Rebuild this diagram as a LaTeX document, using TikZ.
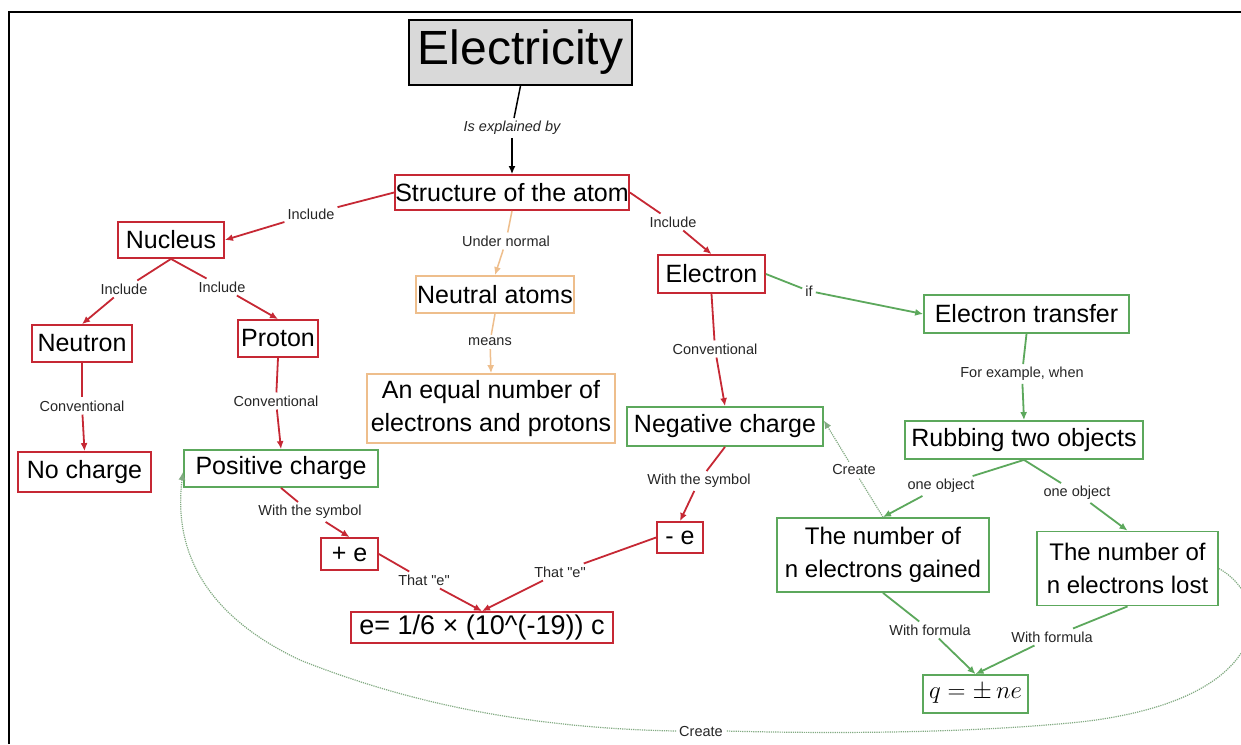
\documentclass[tikz,border=0pt]{standalone}
\usepackage{fontspec}
\setmainfont{Liberation Sans}
\usetikzlibrary{arrows.meta}
\definecolor{cred}{RGB}{198,40,52}
\definecolor{cgreen}{RGB}{92,168,92}
\definecolor{corange}{RGB}{238,190,140}
\definecolor{cgray}{RGB}{217,217,217}
\definecolor{cdot}{RGB}{130,170,130}
\begin{document}
\begin{tikzpicture}[x=1pt,y=-1pt,
  box/.style={draw, line width=1.8pt, inner sep=0pt, align=center, font=\fontsize{25}{33}\selectfont},
  redbox/.style={box, draw=cred},
  greenbox/.style={box, draw=cgreen},
  orangebox/.style={box, draw=corange},
  lbl/.style={inner sep=3pt, font=\fontsize{14.5}{16}\selectfont, text=black!85},
  tip/.style={-{Latex[length=8pt,width=7pt]}},
  rl/.style={draw=cred, line width=1.8pt},
  gl/.style={draw=cgreen, line width=1.8pt},
  ol/.style={draw=corange, line width=1.5pt},
  bl/.style={draw=black, line width=1.5pt},
  dl/.style={draw=cdot, line width=1.2pt, densely dotted}
]
\useasboundingbox (0,0) rectangle (1241,744);
\fill[white] (0,0) rectangle (1241,744);
\draw[line width=2.2pt] (9,744) -- (9,12) -- (1241,12);

% concepts
\node[box, fill=cgray, draw=black, minimum width=223, minimum height=65, font=\fontsize{48}{50}\selectfont] (elec) at (520.5,52.5) {Electricity};
\node[redbox, minimum width=234, minimum height=35] (struct) at (512,192.5) {Structure of the atom};
\node[redbox, minimum width=106, minimum height=36] (nucleus) at (171,240) {Nucleus};
\node[redbox, minimum width=100, minimum height=37] (neutron) at (82,343.5) {Neutron};
\node[redbox, minimum width=80, minimum height=37] (proton) at (278,338.5) {Proton};
\node[redbox, minimum width=133, minimum height=40] (nocharge) at (84.5,472) {No charge};
\node[greenbox, minimum width=194, minimum height=37] (positive) at (281,468.5) {Positive charge};
\node[orangebox, minimum width=158, minimum height=37] (neutral) at (495,294.5) {Neutral atoms};
\node[orangebox, minimum width=248, minimum height=69] (equal) at (491,408.5) {An equal number of\\electrons and protons};
\node[redbox, minimum width=107, minimum height=38] (electron) at (711.5,274) {Electron};
\node[greenbox, minimum width=196, minimum height=39] (negative) at (725,426.5) {Negative charge};
\node[greenbox, minimum width=205, minimum height=38] (transfer) at (1026.5,314) {Electron transfer};
\node[greenbox, minimum width=238, minimum height=38] (rubbing) at (1024,440) {Rubbing two objects};
\node[greenbox, minimum width=212, minimum height=74, font=\fontsize{24}{33}\selectfont] (gained) at (883,555) {The number of\\n electrons gained};
\node[greenbox, minimum width=181, minimum height=74, font=\fontsize{24}{33}\selectfont] (lost) at (1127.5,568.5) {The number of\\n electrons lost};
\node[greenbox, minimum width=105, minimum height=38, font=\fontsize{24}{26}\selectfont] (q) at (975.5,694) {$q = \pm\, ne$};
\node[redbox, minimum width=57, minimum height=32] (pe) at (349.5,554) {+ e};
\node[redbox, minimum width=46, minimum height=31] (me) at (680,537.5) {- e};
\node[redbox, minimum width=262, minimum height=31, font=\fontsize{27}{29}\selectfont] (formula) at (482,627.5) {e= 1/6 × (10\textasciicircum(-19)) c};

% linking phrases
\node[lbl, font=\fontsize{14.5}{16}\selectfont\itshape] (l1) at (512,128) {Is explained by};
\node[lbl] (l2) at (311,214) {Include};
\node[lbl] (l3) at (506,241) {Under normal};
\node[lbl] (l4) at (673,222) {Include};
\node[lbl] (l5) at (124,289) {Include};
\node[lbl] (l6) at (222,287) {Include};
\node[lbl] (l7) at (82,406) {Conventional};
\node[lbl] (l8) at (276,401) {Conventional};
\node[lbl] (l9) at (490,342) {means};
\node[lbl] (l10) at (715,349) {Conventional};
\node[lbl] (l11) at (809,291) {if};
\node[lbl] (l12) at (1022,374) {For example, when};
\node[lbl] (l13) at (941,486) {one object};
\node[lbl] (l14) at (1077,493) {one object};
\node[lbl] (l15) at (310,512) {With the symbol};
\node[lbl] (l16) at (699,481) {With the symbol};
\node[lbl] (l17) at (424,580) {That \textquotedbl e\textquotedbl};
\node[lbl] (l18) at (560,572) {That \textquotedbl e\textquotedbl};
\node[lbl] (l19) at (854,470) {Create};
\node[lbl] (l20) at (930,630) {With formula};
\node[lbl] (l21) at (1052,637) {With formula};
\node[lbl] (l22) at (701,731) {Create};

% connectors
\draw[bl] (elec.south) -- (l1); \draw[bl,tip] (l1) -- (struct.north);
\draw[rl] (struct.west) -- (l2); \draw[rl,tip] (l2) -- (nucleus.east);
\draw[ol] (struct.south) -- (l3); \draw[ol,tip] (l3) -- (neutral.north);
\draw[rl] (struct.east) -- (l4); \draw[rl,tip] (l4) -- (electron.north);
\draw[rl] (nucleus.south) -- (l5); \draw[rl,tip] (l5) -- (neutron.north);
\draw[rl] (nucleus.south) -- (l6); \draw[rl,tip] (l6) -- (proton.north);
\draw[rl] (neutron.south) -- (l7); \draw[rl,tip] (l7) -- (nocharge.north);
\draw[rl] (proton.south) -- (l8); \draw[rl,tip] (l8) -- (positive.north);
\draw[ol] (neutral.south) -- (l9); \draw[ol,tip] (l9) -- (equal.north);
\draw[rl] (electron.south) -- (l10); \draw[rl,tip] (l10) -- (negative.north);
\draw[gl] (electron.east) -- (l11); \draw[gl,tip] (l11) -- (transfer.west);
\draw[gl] (transfer.south) -- (l12); \draw[gl,tip] (l12) -- (rubbing.north);
\draw[gl] (rubbing.south) -- (l13); \draw[gl,tip] (l13) -- (gained.north);
\draw[gl] (rubbing.south) -- (l14); \draw[gl,tip] (l14) -- (lost.north);
\draw[rl] (positive.south) -- (l15); \draw[rl,tip] (l15) -- (pe.north);
\draw[rl] (negative.south) -- (l16); \draw[rl,tip] (l16) -- (me.north);
\draw[rl] (pe.east) -- (l17); \draw[rl,tip] (l17) -- (formula.north);
\draw[rl] (me.west) -- (l18); \draw[rl,tip] (l18) -- (formula.north);
\draw[gl] (gained.south) -- (l20); \draw[gl,tip] (l20) -- (q.north);
\draw[gl] (lost.south) -- (l21); \draw[gl,tip] (l21) -- (q.north);
\draw[dl] (gained.north) -- (l19); \draw[dl,tip] (l19) -- ([yshift=6pt]negative.east);
\draw[dl] (lost.east) .. controls (1275,600) and (1275,700) .. (1080,722)
  .. controls (950,735) and (800,733) .. (l22.east);
\draw[dl,tip] (l22.west) .. controls (520,728) and (400,700) .. (300,660)
  .. controls (215,620) and (172,560) .. (183,472);
\end{tikzpicture}
\end{document}
